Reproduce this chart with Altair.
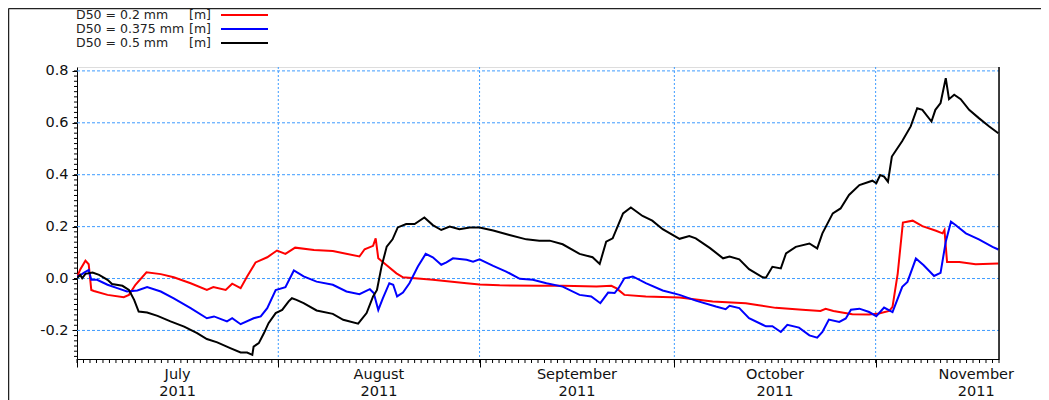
import altair as alt
import pandas as pd

# ---- data (day offsets from 2011-07-01, values in m) ----
red_days = [0, 0.5, 1.3, 1.8, 2.2, 2.6, 4.7, 7.2, 8.0, 9.0, 10.7, 12.9, 14.9, 17.5, 20.0, 21.0,
            22.9, 23.9, 25.2, 26.2, 27.5, 29.3, 30.8, 32.1, 33.6, 36.5, 39.4, 43.5, 44.3, 45.6,
            46.0, 46.4, 47.6, 49.2, 50.2, 54.8, 60.0, 62.0, 65.1, 71.2, 74.8, 80.0, 82.3, 83.1,
            84.3, 87.6, 92.8, 97.9, 103.0, 105.0, 107.6, 111.7, 114.5, 115.3, 116.5, 119.4,
            122.0, 123.5, 125.1, 125.6, 126.4, 127.2, 128.7, 130.2, 132.3, 133.3, 133.6, 134.0,
            135.9, 138.4, 141.9]
red_vals = [0.005, 0.035, 0.069, 0.055, -0.044, -0.048, -0.063, -0.072, -0.063, -0.024, 0.024,
            0.017, 0.005, -0.018, -0.044, -0.033, -0.044, -0.020, -0.037, 0.008, 0.062, 0.082,
            0.108, 0.095, 0.119, 0.110, 0.106, 0.085, 0.113, 0.126, 0.155, 0.078, 0.053, 0.020,
            0.005, -0.005, -0.018, -0.023, -0.026, -0.028, -0.028, -0.031, -0.028, -0.038,
            -0.063, -0.069, -0.073, -0.088, -0.095, -0.103, -0.113, -0.120, -0.125, -0.117,
            -0.125, -0.138, -0.139, -0.135, -0.125, -0.109, 0.019, 0.216, 0.223, 0.202, 0.184,
            0.174, 0.187, 0.064, 0.064, 0.055, 0.058]

blue_days = [0, 0.6, 1.1, 1.8, 2.2, 3.1, 4.7, 6.2, 7.7, 9.3, 10.8, 12.9, 14.9, 17.5, 20.0, 21.1,
             23.1, 23.9, 25.2, 27.2, 28.3, 29.3, 30.6, 32.1, 33.4, 34.9, 36.9, 39.4, 41.5, 43.5,
             45.1, 45.7, 46.4, 47.1, 48.1, 48.7, 49.3, 50.2, 51.2, 52.5, 53.7, 54.8, 56.1, 56.9,
             57.9, 60.0, 61.0, 62.0, 64.1, 66.1, 68.2, 70.2, 72.3, 74.8, 77.4, 79.2, 80.6, 81.8,
             82.8, 83.4, 84.3, 85.6, 87.6, 90.2, 92.8, 95.3, 98.4, 99.9, 100.5, 102.0, 103.5,
             105.6, 106.1, 107.1, 108.4, 109.4, 111.2, 112.8, 114.0, 114.8, 115.8, 117.4, 118.4,
             119.2, 120.5, 122.0, 123.1, 124.3, 125.6, 127.1, 127.9, 129.2, 130.4, 132.0, 133.0,
             133.8, 134.6, 135.3, 136.9, 138.9, 141.0, 141.9]
blue_vals = [0.008, 0.014, 0.023, 0.033, -0.005, -0.005, -0.024, -0.037, -0.050, -0.046, -0.033,
             -0.050, -0.076, -0.114, -0.153, -0.146, -0.165, -0.153, -0.176, -0.153, -0.146,
             -0.114, -0.044, -0.033, 0.031, 0.008, -0.012, -0.024, -0.050, -0.060, -0.041,
             -0.056, -0.121, -0.076, -0.018, -0.024, -0.069, -0.054, -0.018, 0.046, 0.095, 0.082,
             0.053, 0.062, 0.078, 0.072, 0.065, 0.074, 0.049, 0.027, -0.001, -0.005, -0.018,
             -0.031, -0.063, -0.069, -0.095, -0.054, -0.056, -0.037, 0.001, 0.008, -0.018,
             -0.046, -0.063, -0.085, -0.108, -0.118, -0.105, -0.114, -0.153, -0.178, -0.184,
             -0.184, -0.206, -0.178, -0.189, -0.219, -0.228, -0.206, -0.158, -0.167, -0.154,
             -0.120, -0.116, -0.129, -0.145, -0.112, -0.129, -0.032, -0.013, 0.077, 0.051, 0.010,
             0.022, 0.142, 0.219, 0.206, 0.174, 0.151, 0.122, 0.112]

black_days = [0, 0.5, 0.8, 1.3, 2.4, 3.4, 4.7, 5.4, 7.0, 8.0, 8.8, 9.5, 10.8, 12.4, 14.4, 16.5,
              18.5, 20.0, 21.6, 23.6, 25.2, 26.2, 27.0, 27.2, 28.0, 28.8, 29.5, 30.6, 31.6, 32.6,
              33.1, 33.8, 34.9, 36.9, 39.4, 41.0, 43.3, 44.6, 45.6, 46.2, 46.9, 47.7, 48.6, 49.4,
              50.7, 52.0, 53.5, 54.8, 56.1, 57.4, 58.9, 60.5, 62.0, 64.1, 66.6, 69.2, 71.2, 72.8,
              74.8, 77.4, 79.4, 80.5, 81.5, 82.5, 84.1, 85.3, 87.1, 88.6, 90.2, 92.8, 94.3, 95.3,
              97.5, 99.5, 100.5, 102.0, 103.5, 105.6, 106.1, 107.1, 108.4, 109.2, 110.7, 112.8,
              114.0, 114.8, 116.4, 117.6, 118.9, 120.5, 122.5, 123.1, 123.7, 124.3, 124.9, 125.5,
              127.1, 128.4, 129.4, 130.2, 131.6, 132.2, 133.0, 133.8, 134.3, 135.1, 136.1, 137.4,
              138.9, 140.5, 141.9]
black_vals = [0.001, 0.014, 0.001, 0.018, 0.023, 0.014, -0.005, -0.021, -0.028, -0.044, -0.082,
              -0.127, -0.131, -0.144, -0.165, -0.185, -0.210, -0.233, -0.246, -0.268, -0.285,
              -0.285, -0.294, -0.262, -0.249, -0.210, -0.172, -0.133, -0.121, -0.088, -0.076,
              -0.082, -0.095, -0.123, -0.136, -0.159, -0.174, -0.133, -0.069, -0.044, 0.046,
              0.123, 0.151, 0.197, 0.210, 0.210, 0.235, 0.206, 0.187, 0.200, 0.190, 0.197, 0.197,
              0.185, 0.168, 0.151, 0.146, 0.146, 0.132, 0.095, 0.082, 0.056, 0.142, 0.155, 0.251,
              0.274, 0.241, 0.223, 0.190, 0.153, 0.164, 0.155, 0.117, 0.078, 0.085, 0.074, 0.036,
              0.005, 0.003, 0.045, 0.039, 0.097, 0.122, 0.135, 0.116, 0.174, 0.251, 0.270, 0.322,
              0.360, 0.377, 0.367, 0.399, 0.393, 0.373, 0.470, 0.530, 0.586, 0.656, 0.650, 0.605,
              0.650, 0.676, 0.772, 0.691, 0.708, 0.691, 0.650, 0.618, 0.586, 0.560]

series_names = ["D50 = 0.2 mm", "D50 = 0.375 mm", "D50 = 0.5 mm"]
series_units = ["[m]", "[m]", "[m]"]
series_colors = ["#ff0000", "#0000ff", "#000000"]

month_names = ["July\n2011", "August\n2011", "September\n2011", "October\n2011", "November\n2011"]
month_starts = [0, 31, 62, 92, 123]
month_mids = [15.5, 46.5, 77, 107.5, 138.5]
x_end = 142
y_ticks = [-0.2, 0.0, 0.2, 0.4, 0.6, 0.8]
y_domain = [-0.31, 0.815]

assert len(red_days) == len(red_vals)
assert len(blue_days) == len(blue_vals)
assert len(black_days) == len(black_vals)

W, H = 922, 292
GRID = "#3d9bff"
FONT = "DejaVu Sans"
LBL = 14.5

rows = []
for name, d, v in [(series_names[0], red_days, red_vals),
                   (series_names[1], blue_days, blue_vals),
                   (series_names[2], black_days, black_vals)]:
    for a, b in zip(d, v):
        rows.append({"series": name, "day": a, "value": b})
df = pd.DataFrame(rows)

xs = alt.Scale(domain=[0, x_end], nice=False, zero=False)
ys = alt.Scale(domain=y_domain, nice=False, zero=False)

x_axis = alt.Axis(values=month_starts, labels=False, title=None, tickSize=8,
                  tickColor="black", domainColor="black", grid=False)
y_axis = alt.Axis(values=y_ticks, title=None, tickSize=5, tickColor="black",
                  domainColor="black", labelPadding=4, labelFontSize=LBL, labelFont=FONT,
                  labelColor="#111",
                  labelExpr="replace(format(datum.value, '.1f'), '\u2212', '-')", grid=False)

# grid lines (drawn as rules); these first layers carry the axes
vgrid = alt.Chart(pd.DataFrame({"m": month_starts[1:]})).mark_rule(
    color=GRID, strokeWidth=1, strokeDash=[2, 2]).encode(
    x=alt.X("m:Q", scale=xs, axis=x_axis), y=alt.value(0), y2=alt.value(H))
hgrid = alt.Chart(pd.DataFrame({"t": y_ticks})).mark_rule(
    color=GRID, strokeWidth=1, strokeDash=[3, 2]).encode(
    y=alt.Y("t:Q", scale=ys, axis=y_axis), x=alt.value(0), x2=alt.value(W))

lines = alt.Chart(df).mark_line(strokeWidth=2, clip=True).encode(
    x=alt.X("day:Q", scale=xs, axis=x_axis),
    y=alt.Y("value:Q", scale=ys, axis=y_axis),
    color=alt.Color("series:N", scale=alt.Scale(domain=series_names, range=series_colors),
                    legend=None),
    order=alt.Order("day:Q"),
)

day_ticks = pd.DataFrame({"d": list(range(0, x_end + 1))})
xminor = alt.Chart(day_ticks).mark_rule(color="black", strokeWidth=1).encode(
    x=alt.X("d:Q", scale=xs, axis=x_axis), y=alt.value(H), y2=alt.value(H + 4))

yminor_vals = [round(-0.30 + 0.02 * i, 2) for i in range(56)]
yminor = alt.Chart(pd.DataFrame({"v": yminor_vals})).mark_rule(color="black", strokeWidth=1).encode(
    y=alt.Y("v:Q", scale=ys, axis=y_axis), x=alt.value(-3), x2=alt.value(0))

month_df = pd.DataFrame({"mid": month_mids, "label": month_names})
month_text = alt.Chart(month_df).mark_text(
    font=FONT, fontSize=LBL, color="#111", lineBreak="\n", lineHeight=16.5,
    baseline="alphabetic", align="center").encode(
    x=alt.X("mid:Q", scale=xs, axis=x_axis), y=alt.value(H + 20), text="label:N")

right_border = alt.Chart(pd.DataFrame({"a": [0]})).mark_rule(color="black", strokeWidth=1.5).encode(
    x=alt.value(W), y=alt.value(0), y2=alt.value(H))

legend_layers = []
row_y = [-52, -38, -24]
for i in range(3):
    one = pd.DataFrame({"name": [series_names[i]], "unit": [series_units[i]]})
    legend_layers.append(alt.Chart(one).mark_text(
        font=FONT, fontSize=12.5, color="#222", align="left", baseline="middle").encode(
        x=alt.value(-1), y=alt.value(row_y[i]), text="name:N"))
    legend_layers.append(alt.Chart(one).mark_text(
        font=FONT, fontSize=12.5, color="#222", align="left", baseline="middle").encode(
        x=alt.value(112), y=alt.value(row_y[i]), text="unit:N"))
    legend_layers.append(alt.Chart(one).mark_rule(
        strokeWidth=2, color=series_colors[i]).encode(
        x=alt.value(144), x2=alt.value(191), y=alt.value(row_y[i])))

frame_top = alt.Chart(pd.DataFrame({"a": [0]})).mark_rule(color="#222", strokeWidth=1.5).encode(
    x=alt.value(-68.5), x2=alt.value(W + 60), y=alt.value(-58.5))
frame_left = alt.Chart(pd.DataFrame({"a": [0]})).mark_rule(color="#222", strokeWidth=1.5).encode(
    x=alt.value(-68.5), y=alt.value(-58.5), y2=alt.value(H + 50))

chart = alt.layer(
    vgrid, hgrid, lines, xminor, yminor, month_text, right_border, *legend_layers,
    frame_top, frame_left
).properties(
    width=W, height=H,
    autosize=alt.AutoSizeParams(type="none"),
    padding={"left": 69, "top": 59, "right": 42, "bottom": 41},
).configure_view(stroke="#999", strokeWidth=1.5).configure(background="white")

chart.save("out.html", embed_options={"renderer": "svg", "actions": False})
